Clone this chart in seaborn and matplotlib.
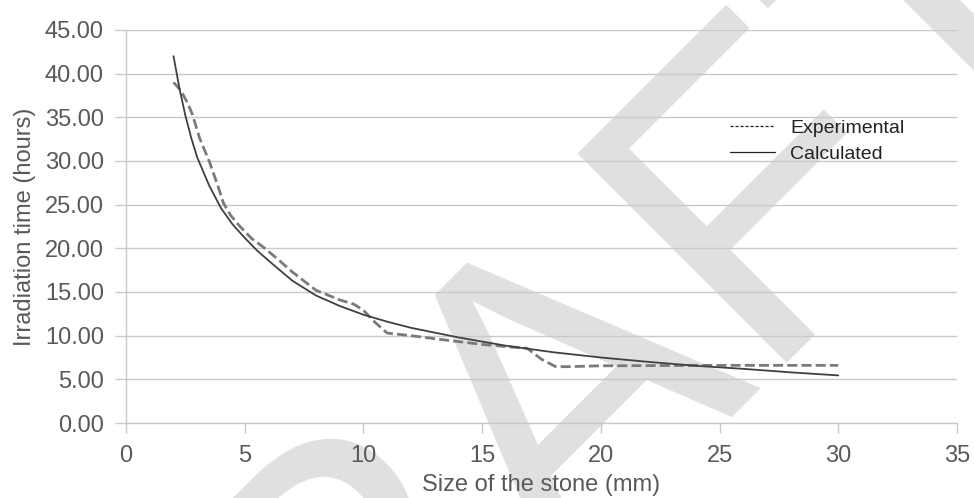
import seaborn as sns
import matplotlib.pyplot as plt
import pandas as pd
from matplotlib.lines import Line2D

# ---- data ----
calc_x = [2.0, 2.25, 2.5, 2.75, 3.0, 3.5, 4.0, 4.5, 5.0, 5.5, 6.0, 7.0, 8.0, 9.0, 10.0,
          11.0, 12.0, 14.0, 16.0, 18.0, 20.0, 22.0, 24.0, 26.0, 28.0, 30.0]
calc_y = [42.0, 38.3, 35.2, 32.6, 30.4, 27.2, 24.6, 22.7, 21.2, 19.8, 18.6, 16.3, 14.6, 13.4, 12.4,
          11.6, 10.9, 9.8, 8.85, 8.1, 7.5, 7.0, 6.55, 6.2, 5.8, 5.45]

exp_x = [2.0, 2.3, 2.6, 2.8, 3.1, 3.5, 3.9, 4.1, 4.4, 4.8, 5.3, 5.85, 6.5, 7.0, 8.0, 9.0, 9.6,
         10.0, 10.5, 11.0, 12.0, 13.6, 15.0, 16.0, 16.9, 17.5, 18.1, 18.6, 20.0, 25.0, 30.0]
exp_y = [39.0, 38.1, 36.6, 35.3, 32.6, 30.0, 26.9, 25.2, 23.8, 22.5, 21.1, 20.0, 18.5, 17.3,
         15.2, 14.1, 13.6, 12.9, 11.5, 10.3, 10.0, 9.45, 9.0, 8.75, 8.55, 7.3, 6.45, 6.45, 6.55,
         6.6, 6.6]

x_ticks = [0, 5, 10, 15, 20, 25, 30, 35]
y_ticks = [0, 5, 10, 15, 20, 25, 30, 35, 40, 45]
y_tick_labels = ["0.00", "5.00", "10.00", "15.00", "20.00", "25.00", "30.00",
                 "35.00", "40.00", "45.00"]
series_names = ["Experimental", "Calculated"]

x_label = "Size of the stone (mm)"
y_label = "Irradiation time (hours)"
watermark = "DRAFT"

# ---- style ----
sns.set_theme(style="white")
plt.rcParams["font.family"] = ["Liberation Sans", "DejaVu Sans"]

text_col = "#595959"
grid_col = "#c9c9c9"

fig, ax = plt.subplots(figsize=(9.74, 4.98), dpi=100)
fig.subplots_adjust(left=0.1294, right=0.9825, top=0.9398, bottom=0.1506)
ax.set_facecolor("none")

# watermark
ax.text(0.552, 0.16, watermark, transform=fig.transFigure, rotation=45,
        fontsize=310, color="#e0e0e0", ha="center", va="center",
        zorder=0.1, clip_on=False)

calc_df = pd.DataFrame({"x": calc_x, "y": calc_y})
exp_df = pd.DataFrame({"x": exp_x, "y": exp_y})

sns.lineplot(data=exp_df, x="x", y="y", ax=ax, color="#7a7a7a", linewidth=2.0,
             linestyle=(0, (3.6, 1.5)), zorder=3)
sns.lineplot(data=calc_df, x="x", y="y", ax=ax, color="#404040", linewidth=1.3,
             zorder=4)

ax.set_xlim(0, 35)
ax.set_ylim(0, 45)
ax.set_xticks(x_ticks)
ax.set_yticks(y_ticks)
ax.set_yticklabels(y_tick_labels)

ax.set_axisbelow(True)
ax.yaxis.grid(True, color=grid_col, linewidth=1.0)
ax.xaxis.grid(False)

for s in ["top", "right"]:
    ax.spines[s].set_visible(False)
ax.spines["left"].set_color(grid_col)
ax.spines["bottom"].set_color(grid_col)
ax.spines["left"].set_linewidth(1.0)
ax.spines["bottom"].set_linewidth(1.0)

ax.tick_params(axis="x", direction="out", length=7, width=1.0, color=grid_col,
               labelsize=17, labelcolor=text_col, pad=9, bottom=True)
ax.tick_params(axis="y", direction="out", length=8, width=1.0, color=grid_col,
               labelsize=17, labelcolor=text_col, pad=8, left=True)

ax.set_xlabel(x_label, fontsize=17, color=text_col, labelpad=5)
ax.set_ylabel(y_label, fontsize=17, color=text_col, labelpad=6)

handles = [Line2D([0], [0], color="#222222", linewidth=0.9, linestyle=(0, (2.5, 1.5))),
           Line2D([0], [0], color="#222222", linewidth=0.9)]
leg = ax.legend(handles, series_names, loc="upper left",
                bbox_to_anchor=(730 / 974, 1 - 119 / 498),
                bbox_transform=fig.transFigure, frameon=False, fontsize=14,
                handlelength=2.3, handletextpad=0.8, labelspacing=0.45,
                borderpad=0, borderaxespad=0)
for t in leg.get_texts():
    t.set_color("#222222")

fig.savefig("out.png", dpi=100)
